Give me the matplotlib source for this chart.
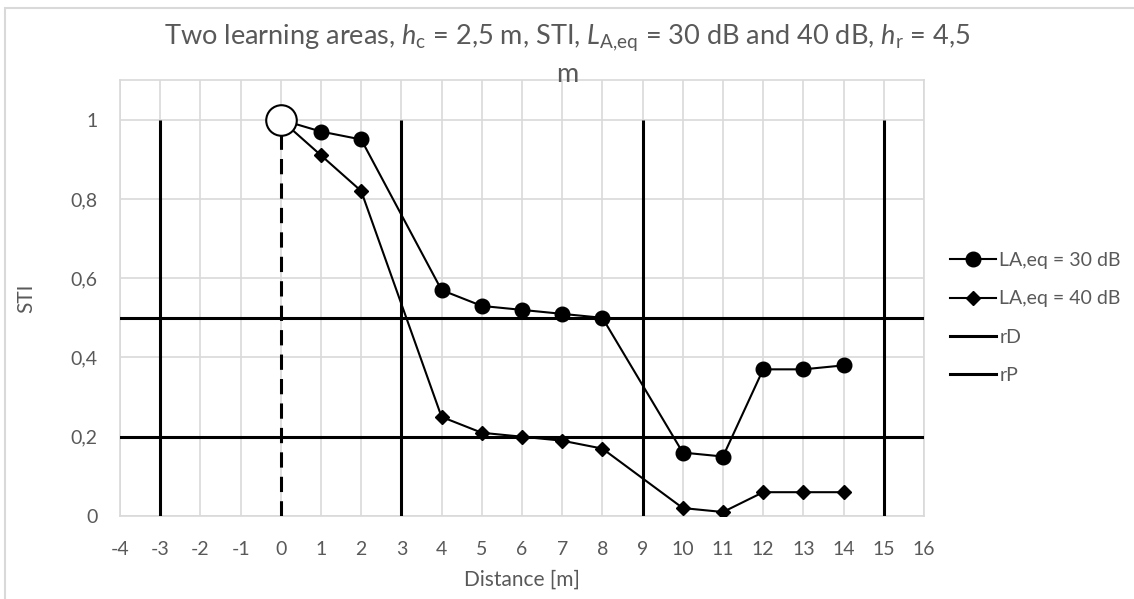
import numpy as np
import matplotlib.pyplot as plt
from matplotlib.patches import Rectangle

plt.rcParams['font.family'] = ['Lato', 'DejaVu Sans']
plt.rcParams['mathtext.fontset'] = 'custom'
plt.rcParams['mathtext.rm'] = 'Lato'
plt.rcParams['mathtext.it'] = 'Lato:italic'

# STI versus distance for two background noise levels
dist = [0, 1, 2, 4, 5, 6, 7, 8, 10, 11, 12, 13, 14]
sti_30 = [1.0, 0.97, 0.95, 0.57, 0.53, 0.52, 0.51, 0.50, 0.16, 0.15, 0.37, 0.37, 0.38]
sti_40 = [1.0, 0.91, 0.82, 0.25, 0.21, 0.20, 0.19, 0.17, 0.02, 0.01, 0.06, 0.06, 0.06]

# room boundaries (vertical) and STI criteria (horizontal)
walls_x = [-3, 3, 9, 15]
criteria_y = [0.5, 0.2]
source = (0, 1.0)

yticks = [0, 0.2, 0.4, 0.6, 0.8, 1.0]
ytick_labels = ['0', '0,2', '0,4', '0,6', '0,8', '1']
xticks = list(range(-4, 17))

grey_txt = '#595959'
grid_col = '#d9d9d9'

fig = plt.figure(figsize=(11.34, 5.99), dpi=100)
ax = fig.add_axes([0.1058, 0.1386, 0.7090, 0.7278])

l30, = ax.plot(dist, sti_30, color='black', lw=1.5, marker='o', ms=10.5, zorder=4)
l40, = ax.plot(dist, sti_40, color='black', lw=1.5, marker='D', ms=7, zorder=4)

ax.vlines(walls_x, 0, 1.0, color='black', lw=2.2, zorder=3)
rd, = ax.plot([], [], color='black', lw=2.2)
for yv in criteria_y:
    ax.axhline(yv, color='black', lw=2.2, zorder=3)
rp, = ax.plot([], [], color='black', lw=2.2)

ax.plot([0, 0], [0, 1.0], color='black', lw=2.2, ls=(0, (5, 3)), zorder=3)
ax.plot(*source, marker='o', ms=22, mfc='white', mec='black', mew=1.5, zorder=5)

ax.set_xlim(-4, 16)
ax.set_ylim(0, 1.1)
ax.set_xticks(xticks)
ax.set_xticklabels([str(v) for v in xticks])
ax.set_yticks(yticks)
ax.set_yticklabels(ytick_labels)
ax.grid(True, color=grid_col, lw=1.2, zorder=0)
ax.set_axisbelow(True)
for sp in ax.spines.values():
    sp.set_color(grid_col)
    sp.set_linewidth(1.2)
ax.tick_params(length=0, labelsize=14, colors=grey_txt)
ax.tick_params(axis='x', pad=18)
ax.tick_params(axis='y', pad=16)

ax.set_xlabel('Distance [m]', fontsize=15, color=grey_txt, va='center')
ax.xaxis.set_label_coords(0.5, -0.147)
ax.set_ylabel('STI', fontsize=15, color=grey_txt, va='center')
ax.yaxis.set_label_coords(-0.116, 0.5)

fig.text(0.5, 0.937,
         'Two learning areas, $h_\\mathrm{c}$ = 2,5 m, STI, $L_\\mathrm{A{,}eq}$ = 30 dB and 40 dB, $h_\\mathrm{r}$ = 4,5',
         ha='center', va='center', fontsize=19.5, color=grey_txt)
fig.text(0.5, 0.875, 'm', ha='center', va='center', fontsize=19.5, color=grey_txt)

leg = fig.legend([l30, l40, rd, rp],
                 ['LA,eq = 30 dB', 'LA,eq = 40 dB', 'rD', 'rP'],
                 loc='center left', bbox_to_anchor=(0.822, 0.469),
                 frameon=False, fontsize=14, handlelength=2.4,
                 handletextpad=0.15, labelspacing=1.1)
for t in leg.get_texts():
    t.set_color(grey_txt)

fig.patches.append(Rectangle((0.004, -0.05), 1.1, 1.036, transform=fig.transFigure,
                             fill=False, edgecolor=grid_col, lw=1.5))

fig.savefig('out.png', dpi=100)
